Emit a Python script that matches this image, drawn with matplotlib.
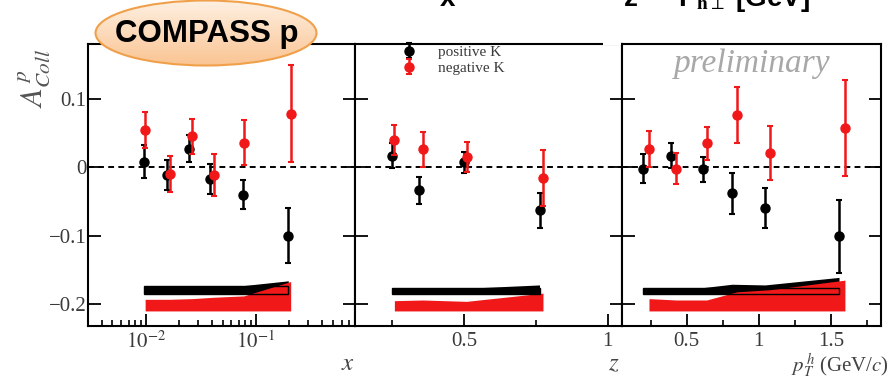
import numpy as np
import matplotlib
matplotlib.use('Agg')
import matplotlib.pyplot as plt
from matplotlib.patches import Ellipse, Rectangle
from matplotlib.ticker import FixedLocator, NullFormatter, FixedFormatter

plt.rcParams['font.family'] = ['Liberation Serif', 'DejaVu Serif']
plt.rcParams['mathtext.fontset'] = 'stix'

# ---------------- data ----------------
# x binning
x_pos = [0.0096, 0.0157, 0.025, 0.038, 0.0767, 0.197]
a_pos_x = [0.008, -0.012, 0.027, -0.017, -0.040, -0.100]
e_pos_x = [0.024, 0.022, 0.020, 0.022, 0.021, 0.040]
x_neg = [0.0099, 0.0165, 0.0266, 0.0415, 0.078, 0.207]
a_neg_x = [0.054, -0.010, 0.045, -0.011, 0.036, 0.078]
e_neg_x = [0.026, 0.026, 0.026, 0.031, 0.033, 0.071]
sys_pos_x = [0.012, 0.012, 0.012, 0.012, 0.012, 0.019]
sys_neg_x = [0.017, 0.017, 0.018, 0.020, 0.022, 0.043]

# z binning
z_pos = [0.248, 0.345, 0.500, 0.763]
a_pos_z = [0.017, -0.034, 0.007, -0.063]
e_pos_z = [0.018, 0.020, 0.015, 0.026]
z_neg = [0.258, 0.356, 0.509, 0.775]
a_neg_z = [0.040, 0.026, 0.015, -0.016]
e_neg_z = [0.022, 0.025, 0.022, 0.041]
sys_pos_z = [0.009, 0.008, 0.008, 0.013]
sys_neg_z = [0.015, 0.016, 0.014, 0.026]

# pT binning
pt_pos = [0.20, 0.39, 0.61, 0.815, 1.043, 1.556]
a_pos_pt = [-0.002, 0.017, -0.003, -0.038, -0.060, -0.101]
e_pos_pt = [0.021, 0.018, 0.018, 0.030, 0.029, 0.053]
pt_neg = [0.239, 0.426, 0.639, 0.849, 1.077, 1.597]
a_neg_pt = [0.027, -0.002, 0.035, 0.076, 0.021, 0.057]
e_neg_pt = [0.026, 0.023, 0.024, 0.041, 0.039, 0.070]
sys_pos_pt = [0.009, 0.009, 0.009, 0.014, 0.013, 0.024]
sys_neg_pt = [0.018, 0.016, 0.016, 0.028, 0.031, 0.045]

series_labels = ['positive K', 'negative K']
ytick_vals = [-0.2, -0.1, 0.0, 0.1]
ytick_labels = ['\u22120.2', '\u22120.1', '0', '0.1']

# ---------------- style ----------------
RED = '#f01818'
BLK = '#000000'
TICKC = '#3a3a3a'
BASE_POS = -0.185
BASE_NEG = -0.210

W, H = 889, 379
fig = plt.figure(figsize=(W / 100, H / 100), dpi=100)

def px_axes(l, r, t, b):
    return fig.add_axes([l / W, 1 - b / H, (r - l) / W, (b - t) / H])

ax1 = px_axes(88, 355, 44, 326)
ax2 = px_axes(355, 622, 44, 326)
ax3 = px_axes(622, 881, 44, 326)

panels = [
    (ax1, x_pos, a_pos_x, e_pos_x, x_neg, a_neg_x, e_neg_x, sys_pos_x, sys_neg_x),
    (ax2, z_pos, a_pos_z, e_pos_z, z_neg, a_neg_z, e_neg_z, sys_pos_z, sys_neg_z),
    (ax3, pt_pos, a_pos_pt, e_pos_pt, pt_neg, a_neg_pt, e_neg_pt, sys_pos_pt, sys_neg_pt),
]

for i, (ax, xp, ap, ep, xn, an, en, sp, sn) in enumerate(panels):
    if i == 0:
        ax.set_xscale('log')
    ax.set_ylim(-0.232, 0.180)
    ax.axhline(0, color='black', lw=1.4, ls=(0, (3, 2.2)), zorder=1)
    # systematic bands
    xp_a = np.array(xp); xn_a = np.array(xn)
    ax.fill_between(xp_a, BASE_POS, BASE_POS + np.array(sp), color=BLK, lw=0, zorder=2)
    ax.fill_between(xn_a, BASE_NEG, BASE_NEG + np.array(sn), color=RED, lw=0, zorder=3)
    ax.add_patch(Rectangle((xp_a[0], BASE_POS), xp_a[-1] - xp_a[0], sp[0],
                           fill=False, ec=BLK, lw=1.0, zorder=4))
    # points
    ax.errorbar(xp, ap, yerr=ep, fmt='o', color=BLK, ms=6.5, elinewidth=1.8,
                capsize=2, capthick=1.5, zorder=5, label=series_labels[0])
    ax.errorbar(xn, an, yerr=en, fmt='o', color=RED, ms=6.5, elinewidth=1.8,
                capsize=2, capthick=1.5, zorder=6, label=series_labels[1])
    ax.yaxis.set_major_locator(FixedLocator(ytick_vals))
    ax.yaxis.set_major_formatter(FixedFormatter(ytick_labels))
    ax.tick_params(axis='both', which='major', direction='in', length=9, width=1.3,
                   labelsize=15, labelcolor=TICKC, pad=2)
    ax.tick_params(axis='both', which='minor', direction='in', length=4.5, width=1.2)
    ax.tick_params(axis='y', left=True, right=True, pad=1)
    ax.tick_params(axis='x', top=False, bottom=True, pad=4)
    ax.tick_params(axis='y', which='minor', left=False, right=False)
    for s in ax.spines.values():
        s.set_linewidth(1.5)
    if i > 0:
        ax.tick_params(axis='y', labelleft=False)

# x axis of panel 1 (log)
ax1.set_xlim(0.003, 0.794)
ax1.xaxis.set_major_locator(FixedLocator([0.01, 0.1]))
ax1.xaxis.set_major_formatter(FixedFormatter([r'$10^{-2}$', r'$10^{-1}$']))
minors = [k * 10.0 ** e for e in (-3, -2, -1) for k in range(2, 10)]
minors = [m for m in minors if 0.003 <= m <= 0.794]
ax1.xaxis.set_minor_locator(FixedLocator(minors))
ax1.xaxis.set_minor_formatter(NullFormatter())

ax2.set_xlim(0.121, 1.05)
ax2.xaxis.set_major_locator(FixedLocator([0.5, 1.0]))
ax2.xaxis.set_major_formatter(FixedFormatter(['0.5', '1']))
ax2.xaxis.set_minor_locator(FixedLocator([0.25, 0.75]))

ax3.set_xlim(0.052, 1.847)
ax3.xaxis.set_major_locator(FixedLocator([0.5, 1.0, 1.5]))
ax3.xaxis.set_major_formatter(FixedFormatter(['0.5', '1', '1.5']))
ax3.xaxis.set_minor_locator(FixedLocator([0.25, 0.75, 1.25, 1.75]))

# legend in the z panel
leg = ax2.legend(loc='upper left', bbox_to_anchor=(0.175, 0.995), frameon=False,
                 fontsize=11, handlelength=1.0, handletextpad=1.4, labelspacing=0.15,
                 borderpad=0, borderaxespad=0)
for t in leg.get_texts():
    t.set_color('#3a3a3a')

# ---------------- overlay (pixel coords) ----------------
ov = fig.add_axes([0, 0, 1, 1], zorder=10)
ov.set_xlim(0, W); ov.set_ylim(H, 0)
ov.axis('off')
ov.patch.set_visible(False)

# gap in top frame between panels 2 and 3
ov.add_patch(Rectangle((603, 38), 18, 6.5, color='white', lw=0))

# axis labels
ov.text(34, 78, r'$A^{\,p}_{Coll}$', rotation=90, ha='center', va='center',
        fontsize=22, color='#555555')
ov.text(348, 364, r'$x$', ha='center', va='center', fontsize=18, color='#444444')
ov.text(614, 364, r'$z$', ha='center', va='center', fontsize=18, color='#444444')
ov.text(889, 366, r'$p^{\,h}_{T}$ (GeV/$c$)', ha='right', va='center', fontsize=15,
        color='#444444')

# preliminary
ov.text(752, 64, 'preliminary', ha='center', va='center', fontsize=24,
        style='italic', color='#a8a8a8')

# COMPASS p ellipse with gradient
ell = Ellipse((206, 33), 221, 65, fc='none', ec='#f0a04a', lw=1.5, zorder=3)
grad = np.linspace(0, 1, 100)[:, None]
c_top = np.array([254, 240, 226]) / 255
c_bot = np.array([250, 196, 146]) / 255
img = c_top[None, None, :] * (1 - grad[:, :, None]) + c_bot[None, None, :] * grad[:, :, None]
im = ov.imshow(img, extent=(95, 317, 66, 0), aspect='auto', zorder=2,
               interpolation='bilinear')
clip = Ellipse((206, 33), 221, 65, transform=ov.transData)
im.set_clip_path(clip)
ov.add_patch(ell)
ov.set_xlim(0, W); ov.set_ylim(H, 0)
ov.text(207, 34, 'COMPASS p', ha='center', va='center', fontsize=22.5,
        fontweight='bold', family='Liberation Sans', color='black', zorder=4)

# clipped slide-title text at the very top
for xx, s in [(448, 'x'), (631, 'z'), (678, r'P$_{\mathbf{h}\perp}$ [GeV]')]:
    ov.text(xx, 6, s, ha='left' if xx > 650 else 'center', va='baseline',
            fontsize=20, fontweight='bold', family='Liberation Sans', color='black',
            clip_on=False)

fig.savefig('out.png', dpi=100)
